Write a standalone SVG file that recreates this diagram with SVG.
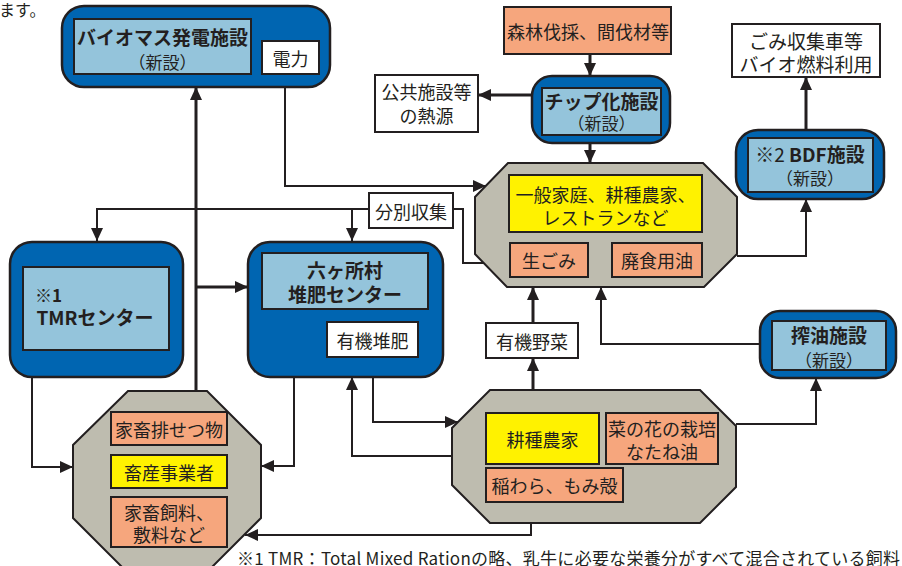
<svg xmlns="http://www.w3.org/2000/svg" width="902" height="566" viewBox="0 0 902 566">
<defs>
<style>
text{font-family:"Noto Sans CJK JP","Noto Sans",sans-serif;fill:#231f20;dominant-baseline:central;}
.t{font-size:18px;text-anchor:middle;}
.b{font-size:19px;font-weight:bold;text-anchor:middle;}
.outer{fill:#0065b1;stroke:#231f20;stroke-width:2.5;}
.inner{fill:#94c4db;stroke:#231f20;stroke-width:2;}
.white{fill:#fff;stroke:#231f20;stroke-width:2;}
.salmon{fill:#f6a67d;stroke:#231f20;stroke-width:2;}
.yellow{fill:#fff200;stroke:#231f20;stroke-width:2;}
.oct{fill:#bebcaf;stroke:#231f20;stroke-width:2;}
.c{fill:none;stroke:#231f20;stroke-width:2;}
.k{fill:none;stroke:#231f20;stroke-width:3;}
</style>
<marker id="ah" markerUnits="userSpaceOnUse" markerWidth="13" markerHeight="12" refX="13" refY="6" orient="auto">
<path d="M0,0 L13,6 L0,12 z" fill="#231f20"/>
</marker>
</defs>
<text x="-1" y="9" style="font-size:16px">ます。</text>

<g id="biomass">
<rect class="outer" x="62" y="6" width="268" height="81" rx="22"/>
<rect class="inner" x="74" y="19" width="177" height="55"/>
<text class="b" x="162.5" y="36">バイオマス発電施設</text>
<text class="t" x="162.5" y="61" style="font-size:17px">（新設）</text>
<rect class="white" x="262" y="41" width="57" height="33"/>
<text class="t" x="290.5" y="57.5">電力</text>
</g>

<g id="forest">
<rect class="salmon" x="504" y="7" width="167" height="47"/>
<text class="t" x="588" y="31">森林伐採、間伐材等</text>
</g>

<g id="public">
<rect class="white" x="375" y="75" width="103" height="57"/>
<text class="t" x="426.5" y="91">公共施設等</text>
<text class="t" x="426.5" y="115">の熱源</text>
</g>

<g id="chip">
<rect class="outer" x="532" y="76" width="138" height="67" rx="20"/>
<rect class="inner" x="542" y="88" width="119" height="47"/>
<text class="b" x="601.5" y="100">チップ化施設</text>
<text class="t" x="601.5" y="122" style="font-size:17px">（新設）</text>
</g>

<g id="garbagetruck">
<rect class="white" x="732" y="24" width="148" height="53"/>
<text class="t" x="806" y="40" style="font-size:19px">ごみ収集車等</text>
<text class="t" x="806" y="63" style="font-size:19px">バイオ燃料利用</text>
</g>

<g id="bdf">
<rect class="outer" x="736" y="130" width="148" height="69" rx="22"/>
<rect class="inner" x="748" y="138" width="125" height="54"/>
<text class="b" x="810" y="153"><tspan font-weight="normal">※2</tspan> BDF施設</text>
<text class="t" x="810" y="177" style="font-size:17px">（新設）</text>
</g>

<g id="waste">
<polygon class="oct" points="508,163 703,163 737,197 737,254 704,287 507,287 475,254 475,197"/>
<rect class="yellow" x="509" y="175" width="193" height="57"/>
<text class="t" x="605.5" y="194">一般家庭、耕種農家、</text>
<text class="t" x="605.5" y="217">レストランなど</text>
<rect class="salmon" x="510" y="243" width="78" height="34"/>
<text class="t" x="549" y="260">生ごみ</text>
<rect class="salmon" x="612" y="243" width="90" height="34"/>
<text class="t" x="657" y="260">廃食用油</text>
</g>

<g id="sorting">
<rect class="white" x="369" y="193" width="84" height="35"/>
<text class="t" x="411" y="211">分別収集</text>
</g>

<g id="tmr">
<rect class="outer" x="10" y="242" width="173" height="135" rx="22"/>
<rect class="inner" x="23" y="267" width="146" height="83"/>
<text x="35" y="294" style="font-size:17px;font-weight:bold">※1</text>
<text class="b" x="95" y="316">TMRセンター</text>
</g>

<g id="compost">
<rect class="outer" x="248" y="242" width="195" height="135" rx="22"/>
<rect class="inner" x="262" y="253" width="166" height="56"/>
<text class="b" x="345" y="269">六ヶ所村</text>
<text class="b" x="345" y="293">堆肥センター</text>
<rect class="white" x="327" y="322" width="91" height="35"/>
<text class="t" x="372.5" y="339.5">有機堆肥</text>
</g>

<g id="vegetables">
<rect class="white" x="486" y="323" width="92" height="35"/>
<text class="t" x="532" y="340.5">有機野菜</text>
</g>

<g id="oilpress">
<rect class="outer" x="760" y="311" width="136" height="67" rx="20"/>
<rect class="inner" x="772" y="321" width="114" height="49"/>
<text class="b" x="829" y="334">搾油施設</text>
<text class="t" x="829" y="359" style="font-size:17px">（新設）</text>
</g>

<g id="livestock">
<polygon class="oct" points="128,391 207,391 261,445 261,518 207,572 127,572 73,518 73,445"/>
<rect class="salmon" x="111" y="412" width="116" height="33"/>
<text class="t" x="169" y="428.5">家畜排せつ物</text>
<rect class="yellow" x="111" y="455" width="116" height="33"/>
<text class="t" x="169" y="471.5">畜産事業者</text>
<rect class="salmon" x="111" y="497" width="116" height="50"/>
<text class="t" x="169" y="512">家畜飼料、</text>
<text class="t" x="169" y="534">敷料など</text>
</g>

<g id="farm">
<polygon class="oct" points="490,390 700,390 736,426 736,487 700,523 490,523 452,485 452,428"/>
<rect class="yellow" x="486" y="413" width="113" height="51"/>
<text class="t" x="542.5" y="438.5">耕種農家</text>
<rect class="salmon" x="606" y="413" width="112" height="51"/>
<text class="t" x="662" y="428">菜の花の栽培</text>
<text class="t" x="662" y="451">なたね油</text>
<rect class="salmon" x="486" y="468" width="137" height="34"/>
<text class="t" x="554.5" y="485">稲わら、もみ殻</text>
</g>

<g id="connectors">
<path class="k" d="M590,54 V76" marker-end="url(#ah)"/>
<path class="k" d="M532,95 H478" marker-end="url(#ah)"/>
<path class="k" d="M590,143 V163" marker-end="url(#ah)"/>
<path class="k" d="M806,130 V77" marker-end="url(#ah)"/>
<path class="c" d="M737,256 H806 V199" marker-end="url(#ah)"/>
<path class="c" d="M285,87 V186 H486" marker-end="url(#ah)"/>
<path class="k" d="M196,391 V87" marker-end="url(#ah)"/>
<path class="k" d="M196,287 H248" marker-end="url(#ah)"/>
<path class="c" d="M484,263 H463 V209 H453"/>
<path class="c" d="M369,209 H97 V241" marker-end="url(#ah)"/>
<path class="c" d="M352,209 V241" marker-end="url(#ah)"/>
<path class="c" d="M32,377 V467 H73" marker-end="url(#ah)"/>
<path class="c" d="M294,377 V466 H261" marker-end="url(#ah)"/>
<path class="c" d="M373,377 V422 H458" marker-end="url(#ah)"/>
<path class="c" d="M452,456 H352 V377" marker-end="url(#ah)"/>
<path class="k" d="M533,390 V358" marker-end="url(#ah)"/>
<path class="k" d="M533,323 V287" marker-end="url(#ah)"/>
<path class="c" d="M760,344 H601 V287" marker-end="url(#ah)"/>
<path class="c" d="M736,424 H816 V378" marker-end="url(#ah)"/>
<path class="c" d="M531,523 V535 H245" marker-end="url(#ah)"/>
</g>

<text x="237" y="557" textLength="663" lengthAdjust="spacing" style="font-size:17px">※1 TMR：Total Mixed Rationの略、乳牛に必要な栄養分がすべて混合されている飼料</text>
</svg>
